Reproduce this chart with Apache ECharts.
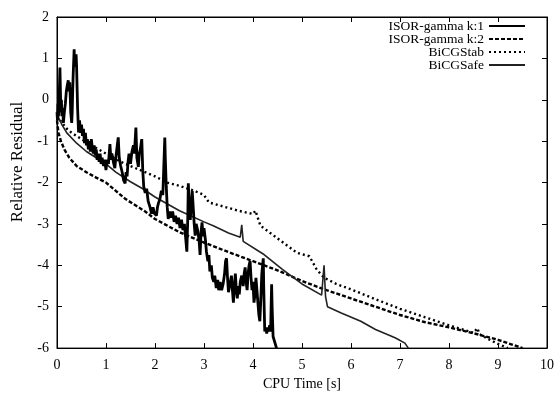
<!DOCTYPE html>
<html><head><meta charset="utf-8">
<script src="https://cdn.jsdelivr.net/npm/echarts@6/dist/echarts.min.js"></script>
<style>html,body{margin:0;padding:0;background:#fff}#c{width:557px;height:396px}</style>
</head><body><div id="c"></div>
<script>
var seriesNames = ['ISOR-gamma k:1', 'ISOR-gamma k:2', 'BiCGStab', 'BiCGSafe'];
var xTicks = [0,1,2,3,4,5,6,7,8,9,10];
var yTicks = [-6,-5,-4,-3,-2,-1,0,1,2];
var xTitle = 'CPU Time [s]';
var yTitle = 'Relative Residual';

var isorK1 = [[0,-0.3],[0.01,-0.5],[0.02,-0.1],[0.03,-0.4],[0.04,-0.2],[0.05,0.3],[0.06,0.78],[0.07,0.2],[0.08,-0.3],[0.09,0.0],[0.1,-0.4],[0.12,-0.2],[0.13,-0.56],[0.15,-0.3],[0.17,-0.1],[0.19,0.2],[0.21,0.35],[0.23,0.47],[0.245,0.2],[0.26,0.42],[0.27,0.1],[0.28,-0.3],[0.3,-0.56],[0.31,-0.3],[0.32,0.2],[0.33,0.6],[0.35,1.22],[0.36,0.8],[0.37,0.95],[0.39,1.1],[0.4,0.8],[0.41,0.3],[0.42,-0.2],[0.44,-0.79],[0.46,-0.5],[0.48,-0.8],[0.5,-0.6],[0.52,-0.87],[0.54,-0.7],[0.56,-1.05],[0.58,-0.8],[0.6,-1.1],[0.62,-0.95],[0.64,-1.2],[0.66,-1.0],[0.68,-1.25],[0.7,-0.95],[0.72,-1.15],[0.74,-1.3],[0.76,-1.1],[0.78,-1.35],[0.8,-1.2],[0.82,-1.45],[0.84,-1.3],[0.86,-1.5],[0.88,-1.3],[0.9,-1.55],[0.92,-1.4],[0.95,-1.6],[0.97,-1.45],[1.0,-1.7],[1.02,-1.45],[1.05,-1.55],[1.08,-1.07],[1.1,-1.45],[1.12,-1.3],[1.15,-1.5],[1.18,-1.65],[1.2,-1.4],[1.22,-1.2],[1.25,-0.91],[1.27,-1.4],[1.3,-1.6],[1.33,-1.75],[1.36,-1.95],[1.39,-2.02],[1.41,-1.75],[1.43,-1.85],[1.45,-1.5],[1.47,-1.3],[1.5,-1.55],[1.53,-1.25],[1.56,-1.1],[1.58,-1.3],[1.61,-0.67],[1.63,-1.4],[1.66,-1.62],[1.68,-1.3],[1.7,-1.2],[1.73,-0.95],[1.75,-1.7],[1.77,-2.1],[1.8,-2.25],[1.83,-2.15],[1.86,-2.45],[1.9,-2.6],[1.93,-2.75],[1.96,-2.6],[1.99,-2.75],[2.03,-2.8],[2.05,-2.6],[2.07,-2.5],[2.1,-2.4],[2.13,-2.2],[2.16,-2.3],[2.18,-1.6],[2.2,-0.91],[2.21,-1.4],[2.23,-2.1],[2.25,-2.6],[2.27,-2.88],[2.3,-2.7],[2.33,-2.85],[2.36,-2.7],[2.39,-2.95],[2.42,-2.8],[2.45,-3.0],[2.48,-2.85],[2.51,-3.1],[2.54,-2.9],[2.57,-3.15],[2.6,-3.0],[2.63,-3.4],[2.65,-3.67],[2.67,-2.8],[2.68,-2.02],[2.7,-2.6],[2.72,-2.9],[2.74,-2.5],[2.76,-2.2],[2.78,-2.6],[2.8,-3.0],[2.82,-3.28],[2.84,-3.0],[2.87,-3.15],[2.9,-3.4],[2.92,-3.75],[2.94,-3.2],[2.96,-2.96],[2.98,-3.3],[3.0,-3.1],[3.03,-3.4],[3.05,-3.67],[3.08,-3.9],[3.1,-3.75],[3.12,-4.15],[3.15,-4.0],[3.17,-4.3],[3.2,-4.4],[3.22,-4.25],[3.25,-4.55],[3.28,-4.35],[3.3,-4.6],[3.33,-4.4],[3.36,-4.6],[3.39,-4.45],[3.42,-4.2],[3.44,-3.9],[3.46,-3.83],[3.48,-4.3],[3.5,-4.65],[3.53,-4.45],[3.56,-4.25],[3.58,-4.6],[3.6,-4.9],[3.62,-4.5],[3.64,-4.2],[3.66,-4.6],[3.68,-4.8],[3.7,-4.5],[3.72,-4.7],[3.74,-4.4],[3.77,-4.25],[3.8,-4.5],[3.82,-4.2],[3.84,-4.05],[3.86,-4.4],[3.88,-4.6],[3.9,-4.2],[3.92,-4.0],[3.94,-3.9],[3.96,-4.3],[3.98,-4.6],[4.0,-4.4],[4.02,-4.9],[4.04,-4.7],[4.06,-4.3],[4.08,-4.6],[4.1,-4.9],[4.12,-5.2],[4.14,-5.35],[4.16,-4.8],[4.18,-4.2],[4.2,-3.95],[4.21,-3.83],[4.22,-4.6],[4.24,-5.6],[4.26,-5.5],[4.28,-5.65],[4.3,-5.5],[4.32,-5.6],[4.34,-5.45],[4.36,-5.6],[4.37,-5.0],[4.38,-4.46],[4.39,-5.0],[4.41,-5.72],[4.43,-5.75],[4.45,-5.88],[4.48,-6.0]];

var isorK2 = [[0,-0.5],[0.03,-0.8],[0.08,-1.0],[0.15,-1.2],[0.25,-1.4],[0.4,-1.6],[0.6,-1.75],[0.8,-1.88],[1.0,-2.0],[1.2,-2.2],[1.4,-2.4],[1.6,-2.55],[1.8,-2.7],[2.0,-2.88],[2.5,-3.2],[3.0,-3.45],[3.5,-3.68],[4.0,-3.9],[4.5,-4.12],[5.0,-4.38],[5.5,-4.6],[6.0,-4.8],[6.5,-5.0],[7.0,-5.2],[7.5,-5.37],[8.0,-5.5],[8.5,-5.64],[9.0,-5.8],[9.5,-6.0]];

var bicgstab = [[0,-0.4],[0.1,-0.55],[0.2,-0.7],[0.3,-0.8],[0.5,-0.95],[0.7,-1.1],[1.0,-1.3],[1.3,-1.5],[1.7,-1.7],[2.0,-1.85],[2.25,-2.0],[2.5,-2.08],[2.8,-2.2],[3.0,-2.3],[3.1,-2.48],[3.4,-2.58],[3.7,-2.68],[4.0,-2.76],[4.05,-2.68],[4.15,-3.04],[4.5,-3.35],[4.9,-3.7],[5.15,-3.78],[5.3,-4.1],[5.45,-4.3],[5.7,-4.45],[6.0,-4.58],[6.5,-4.82],[7.0,-5.05],[7.5,-5.25],[8.0,-5.45],[8.5,-5.63],[8.58,-5.52],[8.62,-5.66],[8.8,-5.78],[9.0,-5.9],[9.2,-6.0]];

var bicgsafe = [[0,-0.35],[0.1,-0.6],[0.2,-0.8],[0.4,-1.05],[0.6,-1.25],[0.8,-1.4],[1.0,-1.55],[1.2,-1.75],[1.5,-1.98],[1.75,-2.15],[2.0,-2.35],[2.5,-2.68],[3.0,-2.95],[3.2,-3.05],[3.5,-3.22],[3.74,-3.32],[3.77,-3.02],[3.8,-3.42],[4.2,-3.72],[4.6,-4.1],[5.0,-4.45],[5.4,-4.72],[5.45,-4.0],[5.48,-4.75],[5.52,-5.0],[5.8,-5.15],[6.2,-5.35],[6.5,-5.55],[6.9,-5.75],[7.1,-5.88],[7.17,-6.0]];

var F = 'Liberation Serif';
var chart = echarts.init(document.getElementById('c'));
var axisCommon = {
  type:'value', axisLine:{show:true, onZero:false, lineStyle:{color:'#000', width:1}},
  axisTick:{show:true, inside:true, length:5, lineStyle:{color:'#000'}},
  splitLine:{show:false}
};
chart.setOption({
  animation:false,
  backgroundColor:'#fff',
  grid:{left:57, right:10, top:17, bottom:41, show:true, borderColor:'#000', borderWidth:1},
  legend:{
    orient:'vertical', right:26, top:14, itemWidth:36, itemHeight:10, itemGap:-1, align:'right',
    textStyle:{fontFamily:F, fontSize:13.5, color:'#000'},
    itemStyle:{opacity:0},
    data:seriesNames
  },
  graphic:[{
    type:'text', x:18, y:162, rotation:Math.PI/2,
    style:{text:yTitle, font:'17px "Liberation Serif"', fill:'#000', textAlign:'center', textVerticalAlign:'middle'}
  }],
  xAxis:[
    Object.assign({}, axisCommon, {min:xTicks[0], max:xTicks[xTicks.length-1], interval:1,
      name:xTitle, nameLocation:'middle', nameGap:27,
      nameTextStyle:{fontFamily:F, fontSize:14, color:'#000'},
      axisLabel:{fontFamily:F, fontSize:14, color:'#000', margin:10}}),
    Object.assign({}, axisCommon, {position:'top', min:0, max:10, interval:1, axisLabel:{show:false}})
  ],
  yAxis:[
    Object.assign({}, axisCommon, {min:yTicks[0], max:yTicks[yTicks.length-1], interval:1,
      axisLabel:{fontFamily:F, fontSize:14, color:'#000', margin:8}}),
    Object.assign({}, axisCommon, {position:'right', min:-6, max:2, interval:1, axisLabel:{show:false}})
  ],
  series:[
    {name:seriesNames[0], type:'line', data:isorK1, showSymbol:false, symbol:'none', lineStyle:{color:'#000', width:2.8}, itemStyle:{color:'#000'}, z:5},
    {name:seriesNames[1], type:'line', data:isorK2, showSymbol:false, symbol:'none', lineStyle:{color:'#000', width:2.4, type:[4,2]}, itemStyle:{color:'#000'}},
    {name:seriesNames[2], type:'line', data:bicgstab, showSymbol:false, symbol:'none', lineStyle:{color:'#000', width:2.4, type:[2,3]}, itemStyle:{color:'#000'}},
    {name:seriesNames[3], type:'line', data:bicgsafe, showSymbol:false, symbol:'none', lineStyle:{color:'#222', width:1.6}, itemStyle:{color:'#222'}}
  ]
});
</script></body></html>
